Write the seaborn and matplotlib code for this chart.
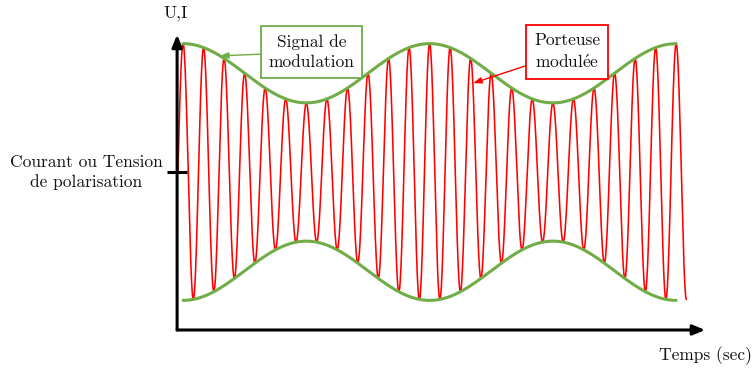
import numpy as np
import pandas as pd
import seaborn as sns
import matplotlib.pyplot as plt

# signal parameters (time in carrier periods)
carrier_cycles = 24.75          # red carrier runs from t=0 to here
mod_period = 12.0               # one modulation cycle = 12 carrier cycles
mod_peak = 0.25                 # first maximum of the envelope
env_span = [0.25, 24.25]        # where the green envelope is drawn
bias = 1.6                      # "courant ou tension de polarisation"
amp = 1.0
mod_index = 0.3

green = "#70AD47"
red = "#FF0000"
ink = "#111111"

sns.set_theme(style="white")
plt.rcParams["font.family"] = ["cmr10", "DejaVu Serif"]
plt.rcParams["mathtext.fontset"] = "cm"
plt.rcParams["axes.formatter.use_mathtext"] = True


def envelope(t):
    return amp * (1 + mod_index * np.cos(2 * np.pi * (t - mod_peak) / mod_period))


t = np.linspace(0, carrier_cycles, 4000)
carrier = pd.DataFrame({"t": t, "v": bias + envelope(t) * np.sin(2 * np.pi * t)})

te = np.linspace(env_span[0], env_span[1], 1000)
upper = pd.DataFrame({"t": te, "v": bias + envelope(te)})
lower = pd.DataFrame({"t": te, "v": bias - envelope(te)})

fig = plt.figure(figsize=(7.53, 3.69), dpi=100)
ax = fig.add_axes([0, 0, 1, 1])

sns.lineplot(data=carrier, x="t", y="v", color=red, lw=1.15, ax=ax)
sns.lineplot(data=upper, x="t", y="v", color=green, lw=2.2, ax=ax)
sns.lineplot(data=lower, x="t", y="v", color=green, lw=2.2, ax=ax)

ax.set_xlim(-8.66, 27.99)
ax.set_ylim(-0.395, 3.342)
ax.axis("off")

# axes with arrows
arrow_kw = dict(arrowstyle="-|>,head_length=0.6,head_width=0.25", color="black", lw=2.2,
                shrinkA=0, shrinkB=0)
ax.annotate("", xy=(25.66, 0), xytext=(-0.04, 0), arrowprops=arrow_kw)
ax.annotate("", xy=(-0.04, 2.99), xytext=(-0.04, 0), arrowprops=arrow_kw)
ax.plot([-0.53, 0.45], [bias, bias], color="black", lw=2.2, solid_capstyle="butt")

fs = 12.5
ax.text(-0.12, 3.21, "U,I", ha="center", va="center", fontsize=fs, color=ink)
ax.text(25.66, -0.263, "Temps (sec)", ha="center", va="center", fontsize=fs, color=ink)
ax.text(-4.47, bias, "Courant ou Tension\nde polarisation", ha="center", va="center",
        fontsize=fs, linespacing=1.35, color=ink)

# callouts
ax.annotate("Signal de\nmodulation", xy=(2.05, bias + envelope(2.05)), xytext=(6.5, 2.815),
            ha="center", va="center", fontsize=fs, linespacing=1.35, color=ink,
            bbox=dict(boxstyle="square,pad=0.45", fc="white", ec=green, lw=1.3),
            arrowprops=dict(arrowstyle="-|>,head_length=0.4,head_width=0.15", color=green,
                            lw=1.0, shrinkA=0, shrinkB=0))
ax.annotate("Porteuse\nmodul$\\mathrm{\\acute{e}}$e", xy=(14.37, 2.50), xytext=(18.95, 2.815),
            ha="center", va="center", fontsize=fs, linespacing=1.35, color=ink,
            bbox=dict(boxstyle="square,pad=0.45", fc="white", ec=red, lw=1.3),
            arrowprops=dict(arrowstyle="-|>,head_length=0.4,head_width=0.15", color=red,
                            lw=1.0, shrinkA=0, shrinkB=0))

fig.savefig("out.png", dpi=100)
